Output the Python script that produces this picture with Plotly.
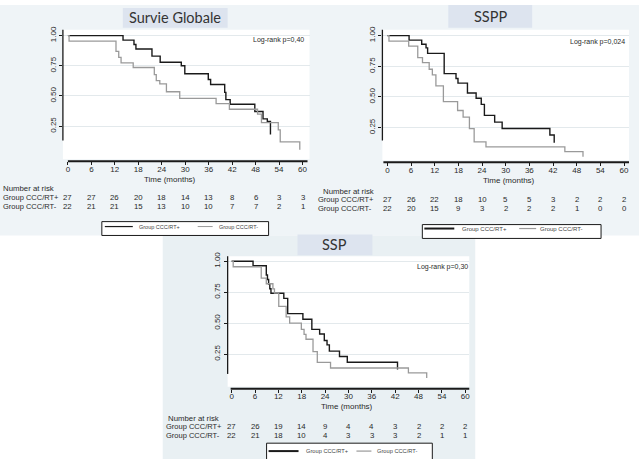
import plotly.graph_objects as go

W, H = 640, 459

# ---------------- DATA ----------------
risk_times = [0, 6, 12, 18, 24, 30, 36, 42, 48, 54, 60]
group_labels = ["Group CCC/RT+", "Group CCC/RT-"]

# Survie Globale
os_plus_t = [0, 14.1, 16.9, 17.4, 21.5, 23.6, 29.0, 29.9, 35.9, 36.5, 40.1, 40.4, 41.5, 47.8, 49.9, 51.0, 51.8, 51.8]
os_plus_s = [1.0, 0.963, 0.926, 0.889, 0.83, 0.78, 0.75, 0.684, 0.636, 0.595, 0.53, 0.47, 0.432, 0.372, 0.31, 0.29, 0.29, 0.18]
os_minus_t = [0, 0.3, 12.3, 13.0, 13.6, 16.7, 22.1, 22.6, 23.5, 25.2, 28.6, 37.9, 41.3, 48.5, 49.5, 53.8, 54.3, 59.3, 59.3]
os_minus_s = [1.0, 0.955, 0.87, 0.82, 0.775, 0.736, 0.677, 0.628, 0.6, 0.535, 0.48, 0.437, 0.39, 0.35, 0.28, 0.22, 0.12, 0.12, 0.055]
os_risk_plus = [27, 27, 26, 20, 18, 14, 13, 8, 6, 3, 3]
os_risk_minus = [22, 21, 21, 15, 13, 10, 10, 7, 7, 2, 1]

# SSPP
sspp_plus_t = [0, 5.5, 8.7, 9.8, 10.2, 14.4, 17.4, 17.9, 20.3, 22.5, 23.8, 24.6, 27.2, 29.1, 41.2, 42.3, 42.3]
sspp_plus_s = [1.0, 0.963, 0.93, 0.90, 0.855, 0.69, 0.65, 0.613, 0.532, 0.49, 0.44, 0.35, 0.295, 0.243, 0.19, 0.19, 0.128]
sspp_minus_t = [0, 0.4, 5.4, 7.7, 8.9, 10.6, 11.4, 12.3, 14.2, 17.8, 19.2, 20.8, 22.0, 25.0, 45.0, 49.6, 49.6]
sspp_minus_s = [1.0, 0.955, 0.914, 0.82, 0.78, 0.726, 0.68, 0.59, 0.462, 0.39, 0.336, 0.242, 0.134, 0.094, 0.054, 0.054, 0.012]
sspp_risk_plus = [27, 26, 22, 18, 10, 5, 5, 3, 2, 2, 2]
sspp_risk_minus = [22, 20, 15, 9, 3, 2, 2, 2, 1, 0, 0]

# SSP
ssp_plus_t = [0, 5.5, 8.9, 9.2, 9.5, 9.8, 10.1, 13.4, 14.4, 18.3, 20.6, 22.6, 23.8, 24.5, 25.1, 27.7, 29.7, 42.6, 42.6]
ssp_plus_s = [1.0, 0.963, 0.889, 0.852, 0.815, 0.778, 0.741, 0.70, 0.577, 0.532, 0.45, 0.412, 0.36, 0.325, 0.274, 0.231, 0.184, 0.184, 0.125]
ssp_minus_t = [0, 0.4, 7.6, 8.9, 10.6, 11.0, 12.1, 14.0, 14.9, 17.9, 18.6, 19.1, 20.9, 22.0, 25.4, 45.4, 50.1, 50.1]
ssp_minus_s = [1.0, 0.955, 0.864, 0.818, 0.777, 0.742, 0.636, 0.55, 0.5, 0.45, 0.41, 0.37, 0.271, 0.184, 0.138, 0.098, 0.098, 0.058]
ssp_risk_plus = [27, 26, 19, 14, 9, 4, 4, 3, 2, 2, 2]
ssp_risk_minus = [22, 21, 18, 10, 4, 3, 3, 3, 2, 1, 1]

titles = ["Survie Globale", "SSPP", "SSP"]
logrank = ["Log-rank p=0,40", "Log-rank p=0,024", "Log-rank p=0,30"]
y_ticks = [0.25, 0.5, 0.75, 1.0]
y_ticktext = ["0.25", "0.50", "0.75", "1.00"]
x_ticks = risk_times
x_title = "Time (months)"
risk_header = "Number at risk"

# ---------------- STYLE / LAYOUT ----------------
BLACK = "#1a1a1a"
GRAY = "#9a9a9a"
TXT = "#2a2a2a"
FONT = "Liberation Sans, Arial, sans-serif"


def fx(px):
    return px / W


def fy(py):
    return 1 - py / H


panels = [
    dict(xa="x", ya="y", dom_x=(63, 310), dom_y=(25, 158), xr=(-1.277, 61.79), yr=(-0.041, 1.049),
         ylin=(63, 25, 137), xlin=(158, 68, 308), white=(63, 25, 310, 156),
         title_box=(123, 3, 228, 23), lr=(305, 35), time=(170, 176),
         hdr=(2, 185.5), rows=(194.5, 203.5), lab_x=2,
         leg=(102, 219, 269, 233), leg_items=((105, 133, 224, 138), (198, 213, 224, 218)), leg_fs=5.5, leg_w=(1.2, 1.0),
         data=((os_plus_t, os_plus_s), (os_minus_t, os_minus_s)), risk=(os_risk_plus, os_risk_minus)),
    dict(xa="x2", ya="y2", dom_x=(383, 630), dom_y=(25, 159), xr=(-1.266, 61.27), yr=(-0.032, 1.048),
         ylin=(383, 25, 137), xlin=(159, 384, 630), white=(383, 25, 630, 157),
         title_box=(449, 0, 533, 23), lr=(627, 37), time=(510, 177),
         hdr=(323, 188.5), rows=(197, 205.5), lab_x=317,
         leg=(423, 222, 602, 236), leg_items=((425, 455, 226, 462), (520, 537, 226, 540)), leg_fs=6.0, leg_w=(2.0, 1.2),
         data=((sspp_plus_t, sspp_plus_s), (sspp_minus_t, sspp_minus_s)), risk=(sspp_risk_plus, sspp_risk_minus)),
    dict(xa="x3", ya="y3", dom_x=(228, 470), dom_y=(254, 388), xr=(-1.026, 61.03), yr=(-0.0295, 1.04),
         ylin=(228, 254, 373), xlin=(388, 231, 470), white=(228, 254, 470, 386),
         title_box=(298, 232, 373, 253), lr=(470, 265), time=(348, 406),
         hdr=(167, 418), rows=(426.5, 435), lab_x=165,
         leg=(267, 443, 433, 462), leg_items=((269, 299, 451, 305), (357, 372, 451, 377)), leg_fs=5.7, leg_w=(2.0, 1.2),
         data=((ssp_plus_t, ssp_plus_s), (ssp_minus_t, ssp_minus_s)), risk=(ssp_risk_plus, ssp_risk_minus)),
]

fig = go.Figure()
shapes = []
annotations = []

# panel backgrounds
shapes.append(dict(type="rect", xref="paper", yref="paper", x0=fx(0), x1=fx(640), y0=fy(233), y1=fy(0),
                   fillcolor="#eff4f7", line=dict(width=0), layer="below"))
shapes.append(dict(type="rect", xref="paper", yref="paper", x0=fx(163), x1=fx(476), y0=fy(459), y1=fy(233),
                   fillcolor="#e9f0f3", line=dict(width=0), layer="below"))

for i, p in enumerate(panels):
    n = "" if i == 0 else str(i + 1)
    xa_key, ya_key = "xaxis" + n, "yaxis" + n
    fig.update_layout(**{
        xa_key: dict(domain=[fx(p["dom_x"][0]), fx(p["dom_x"][1])], range=list(p["xr"]), anchor=p["ya"],
                     tickmode="array", tickvals=x_ticks, ticks="outside", ticklen=3, tickwidth=1.3,
                     tickcolor=BLACK, showgrid=False, zeroline=False, showline=False,
                     ticklabelstandoff=-3,
                     tickfont=dict(family=FONT, size=8, color=TXT)),
        ya_key: dict(domain=[fy(p["dom_y"][1]), fy(p["dom_y"][0])], range=list(p["yr"]), anchor=p["xa"],
                     tickmode="array", tickvals=y_ticks, ticktext=y_ticktext, ticks="outside", ticklen=3,
                     tickwidth=1, tickcolor=BLACK, tickangle=-90, showgrid=True, gridcolor="#e3e9ec",
                     gridwidth=1, zeroline=False, showline=False,
                     tickfont=dict(family=FONT, size=8, color=TXT)),
    })
    # white plot area
    wx0, wy0, wx1, wy1 = p["white"]
    shapes.append(dict(type="rect", xref="paper", yref="paper", x0=fx(wx0), x1=fx(wx1), y0=fy(wy1), y1=fy(wy0),
                       fillcolor="white", line=dict(width=0), layer="below"))
    # axis lines
    lx, ly0, ly1 = p["ylin"]
    shapes.append(dict(type="line", xref="paper", yref="paper", x0=fx(lx), x1=fx(lx), y0=fy(ly0), y1=fy(ly1),
                       line=dict(color=BLACK, width=1.3)))
    yy, xx0, xx1 = p["xlin"]
    shapes.append(dict(type="line", xref="paper", yref="paper", x0=fx(xx0), x1=fx(xx1), y0=fy(yy), y1=fy(yy),
                       line=dict(color=BLACK, width=2)))
    # title box
    tx0, ty0, tx1, ty1 = p["title_box"]
    shapes.append(dict(type="rect", xref="paper", yref="paper", x0=fx(tx0), x1=fx(tx1), y0=fy(ty1), y1=fy(ty0),
                       fillcolor="#dde4ef", line=dict(width=0), layer="below"))
    annotations.append(dict(xref="paper", yref="paper", x=fx((tx0 + tx1) / 2), y=fy((ty0 + ty1) / 2),
                            text=titles[i], showarrow=False, xanchor="center", yanchor="middle", borderpad=0,
                            font=dict(family="Lato, Open Sans, sans-serif", size=14.5, color="#333333")))
    # log-rank
    annotations.append(dict(xref="paper", yref="paper", x=fx(p["lr"][0]), y=fy(p["lr"][1]), text=logrank[i],
                            showarrow=False, xanchor="right", yanchor="middle", borderpad=0,
                            font=dict(family=FONT, size=7, color=TXT)))
    # time label
    annotations.append(dict(xref="paper", yref="paper", x=fx(p["time"][0]), y=fy(p["time"][1]), text=x_title,
                            showarrow=False, xanchor="center", yanchor="middle", borderpad=0,
                            font=dict(family=FONT, size=8, color=TXT)))
    # risk table
    annotations.append(dict(xref="paper", yref="paper", x=fx(p["hdr"][0]), y=fy(p["hdr"][1]), text=risk_header,
                            showarrow=False, xanchor="left", yanchor="middle", borderpad=0,
                            font=dict(family=FONT, size=7.8, color=TXT)))
    for r, (ry, counts) in enumerate(zip(p["rows"], p["risk"])):
        annotations.append(dict(xref="paper", yref="paper", x=fx(p["lab_x"]), y=fy(ry), text=group_labels[r],
                                showarrow=False, xanchor="left", yanchor="middle", borderpad=0,
                                font=dict(family=FONT, size=7.5, color=TXT)))
        for t, c in zip(risk_times, counts):
            annotations.append(dict(xref=p["xa"], yref="paper", x=t, y=fy(ry), text=str(c),
                                    showarrow=False, xanchor="center", yanchor="middle", borderpad=0,
                                    font=dict(family=FONT, size=7.8, color=TXT)))
    # curves
    for (tt, ss), col, w in zip(p["data"], (BLACK, GRAY), (1.4, 1.3)):
        fig.add_trace(go.Scatter(x=tt, y=ss, mode="lines", line=dict(shape="hv", color=col, width=w),
                                 xaxis=p["xa"], yaxis=p["ya"], showlegend=False, hoverinfo="skip"))
    # legend box
    bx0, by0, bx1, by1 = p["leg"]
    shapes.append(dict(type="rect", xref="paper", yref="paper", x0=fx(bx0), x1=fx(bx1), y0=fy(by1), y1=fy(by0),
                       fillcolor="white", line=dict(color=BLACK, width=1)))
    for k, (sx0, sx1, sy, txx) in enumerate(p["leg_items"]):
        shapes.append(dict(type="line", xref="paper", yref="paper", x0=fx(sx0), x1=fx(sx1), y0=fy(sy), y1=fy(sy),
                           line=dict(color=(BLACK, GRAY)[k], width=p["leg_w"][k])))
        annotations.append(dict(xref="paper", yref="paper", x=fx(txx), y=fy(sy), text=group_labels[k],
                                showarrow=False, xanchor="left", yanchor="middle", borderpad=0,
                                font=dict(family=FONT, size=p["leg_fs"], color="#444444")))

fig.update_layout(width=W, height=H, margin=dict(l=0, r=0, t=0, b=0), paper_bgcolor="white",
                  plot_bgcolor="rgba(0,0,0,0)", shapes=shapes, annotations=annotations, showlegend=False)

fig.write_html("out.html", config={"displayModeBar": False},
               post_script="document.body.style.margin='0px';document.body.style.overflow='hidden';")
